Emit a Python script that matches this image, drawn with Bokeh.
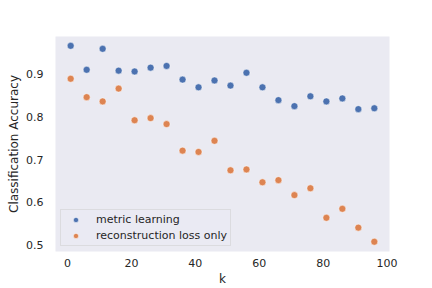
from bokeh.plotting import figure
from bokeh.models import ColumnDataSource, FixedTicker, Legend, LegendItem, Range1d
from bokeh.embed import file_html
from bokeh.resources import INLINE

k = [1, 6, 11, 16, 21, 26, 31, 36, 41, 46, 51, 56, 61, 66, 71, 76, 81, 86, 91, 96]
metric_learning = [0.966, 0.910, 0.959, 0.908, 0.906, 0.915, 0.919, 0.887, 0.869, 0.885,
                   0.873, 0.903, 0.869, 0.839, 0.825, 0.848, 0.836, 0.843, 0.818, 0.820]
reconstruction_only = [0.889, 0.846, 0.836, 0.866, 0.792, 0.797, 0.783, 0.721, 0.718, 0.744,
                       0.675, 0.677, 0.647, 0.652, 0.617, 0.633, 0.564, 0.585, 0.541, 0.508]
x_ticks = [0, 20, 40, 60, 80, 100]
y_ticks = [0.5, 0.6, 0.7, 0.8, 0.9]

BLUE = "#4C72B0"
ORANGE = "#DD8452"
FONT = "DejaVu Sans"
TXT = "#262626"

p = figure(width=432, height=288, output_backend="svg", toolbar_location=None,
           x_range=Range1d(-3.75, 100.75), y_range=Range1d(0.4852, 0.9878),
           min_border_left=55, min_border_right=43, min_border_top=36, min_border_bottom=36)

p.background_fill_color = "#EAEAF2"
p.border_fill_color = "white"
p.outline_line_color = None
p.grid.grid_line_color = None

src = ColumnDataSource(dict(k=k, m=metric_learning, r=reconstruction_only))
r1 = p.scatter("k", "m", source=src, size=7, fill_color=BLUE, line_color="white", line_width=0.5)
r2 = p.scatter("k", "r", source=src, size=7, fill_color=ORANGE, line_color="white", line_width=0.5)

p.xaxis.ticker = FixedTicker(ticks=x_ticks)
p.yaxis.ticker = FixedTicker(ticks=y_ticks)
p.xaxis.axis_label = "k"
p.yaxis.axis_label = "Classification Accuracy"
for ax in (p.xaxis, p.yaxis):
    ax.axis_line_color = None
    ax.major_tick_line_color = None
    ax.minor_tick_line_color = None
    ax.major_tick_out = 0
    ax.major_tick_in = 0
    ax.minor_tick_out = 0
    ax.major_label_text_font = FONT
    ax.major_label_text_font_size = "11px"
    ax.major_label_text_color = TXT
    ax.axis_label_text_font = FONT
    ax.axis_label_text_font_size = "12px"
    ax.axis_label_text_color = TXT
    ax.axis_label_text_font_style = "normal"
p.xaxis.major_label_standoff = 7
p.xaxis.axis_label_standoff = 2
p.yaxis.major_label_standoff = 12
p.yaxis.axis_label_standoff = 2

legend = Legend(items=[LegendItem(label="metric learning", renderers=[r1]),
                       LegendItem(label="reconstruction loss only", renderers=[r2])],
                location=(5, 5))
legend.background_fill_color = "#EAEAF2"
legend.background_fill_alpha = 0.8
legend.border_line_color = "#CCCCCC"
legend.border_line_width = 1
legend.padding = 3
legend.margin = 0
legend.spacing = 3
legend.glyph_width = 23
legend.glyph_height = 13
legend.label_height = 13
legend.label_standoff = 9
legend.label_text_font = FONT
legend.label_text_font_size = "11px"
legend.label_text_color = TXT
p.add_layout(legend, "center")

open("out.html", "w").write(file_html(p, INLINE))
